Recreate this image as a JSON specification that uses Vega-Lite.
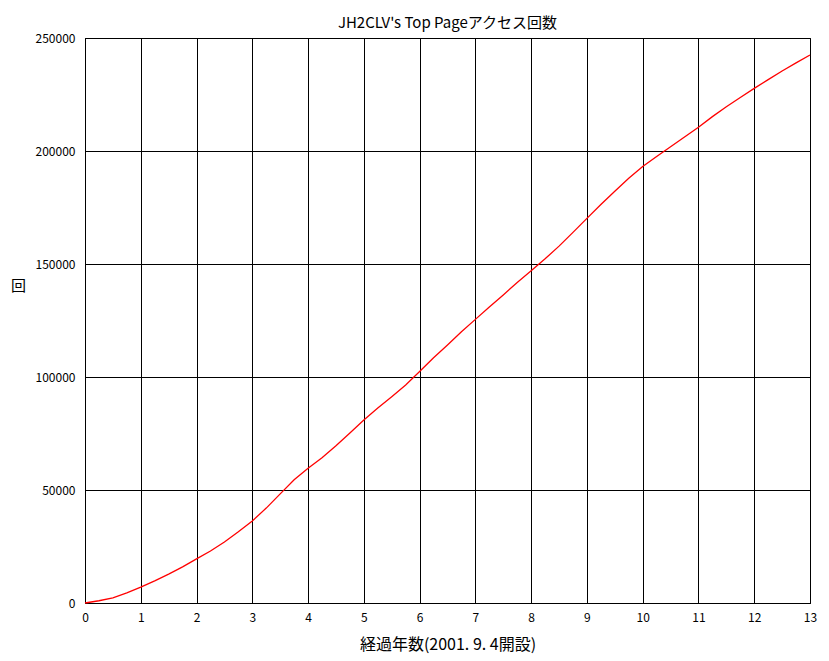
{
  "$schema": "https://vega.github.io/schema/vega-lite/v6.json",
  "autosize": "none",
  "width": 725,
  "height": 565,
  "padding": {"left": 85, "top": 38, "right": 19, "bottom": 58},
  "background": "white",
  "config": {
    "view": {"stroke": "black", "strokeWidth": 1},
    "font": "Noto Sans CJK JP",
    "axis": {"gridColor": "black", "gridOpacity": 1, "gridWidth": 1, "domainColor": "black", "ticks": false, "labelColor": "black", "labelFontSize": 12, "titleColor": "black", "titleFontWeight": "normal"}
  },
  "title": {"text": "JH2CLV's Top Pageアクセス回数", "fontSize": 15, "fontWeight": "normal", "color": "black", "offset": 1, "font": "Noto Sans CJK JP"},
  "data": {"values": [
    {"year": 0, "count": 0},
    {"year": 0.25, "count": 1000},
    {"year": 0.5, "count": 2300},
    {"year": 0.75, "count": 4500},
    {"year": 1, "count": 7000},
    {"year": 1.25, "count": 9800},
    {"year": 1.5, "count": 12800},
    {"year": 1.75, "count": 16000},
    {"year": 2, "count": 19500},
    {"year": 2.25, "count": 23000},
    {"year": 2.5, "count": 27000},
    {"year": 2.75, "count": 31500},
    {"year": 3, "count": 36300},
    {"year": 3.25, "count": 42000},
    {"year": 3.5, "count": 48300},
    {"year": 3.75, "count": 54500},
    {"year": 4, "count": 59600},
    {"year": 4.25, "count": 64300},
    {"year": 4.5, "count": 69600},
    {"year": 4.75, "count": 75200},
    {"year": 5, "count": 81000},
    {"year": 5.25, "count": 86300},
    {"year": 5.5, "count": 91300},
    {"year": 5.75, "count": 96500},
    {"year": 6, "count": 102400},
    {"year": 6.25, "count": 108500},
    {"year": 6.5, "count": 114200},
    {"year": 6.75, "count": 120000},
    {"year": 7, "count": 125500},
    {"year": 7.25, "count": 131000},
    {"year": 7.5, "count": 136300},
    {"year": 7.75, "count": 141800},
    {"year": 8, "count": 147000},
    {"year": 8.25, "count": 152300},
    {"year": 8.5, "count": 157900},
    {"year": 8.75, "count": 164000},
    {"year": 9, "count": 170200},
    {"year": 9.25, "count": 176300},
    {"year": 9.5, "count": 182200},
    {"year": 9.75, "count": 187900},
    {"year": 10, "count": 193100},
    {"year": 10.25, "count": 197600},
    {"year": 10.5, "count": 201900},
    {"year": 10.75, "count": 206200},
    {"year": 11, "count": 210500},
    {"year": 11.25, "count": 215200},
    {"year": 11.5, "count": 219600},
    {"year": 11.75, "count": 223700},
    {"year": 12, "count": 227700},
    {"year": 12.25, "count": 231600},
    {"year": 12.5, "count": 235400},
    {"year": 12.75, "count": 239000},
    {"year": 13, "count": 242500}
  ]},
  "mark": {"type": "line", "color": "red", "strokeWidth": 1.3, "interpolate": "linear"},
  "encoding": {
    "x": {"field": "year", "type": "quantitative",
      "scale": {"domain": [0, 13], "nice": false, "zero": true},
      "axis": {"values": [0,1,2,3,4,5,6,7,8,9,10,11,12,13], "labelPadding": 9, "title": "経過年数(2001. 9. 4開設)", "titleFontSize": 16, "titlePadding": 13, "labelFlush": false, "labelOverlap": false}},
    "y": {"field": "count", "type": "quantitative",
      "scale": {"domain": [0, 250000], "nice": false},
      "axis": {"values": [0, 50000, 100000, 150000, 200000, 250000], "format": "d", "labelPadding": 10, "title": "回", "titleAngle": 0, "titleFontSize": 15, "titleX": -67, "titleY": 247, "titleAlign": "center", "titleBaseline": "middle", "labelFlush": false}}
  }
}
